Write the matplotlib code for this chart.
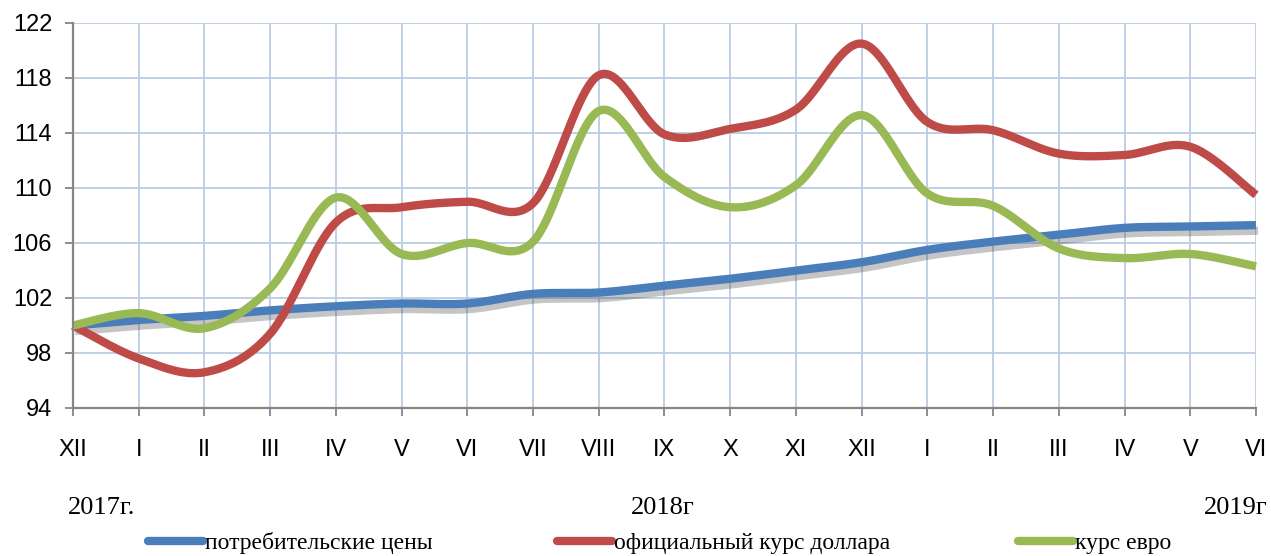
import numpy as np
import matplotlib
matplotlib.use("Agg")
import matplotlib.pyplot as plt
from matplotlib import patheffects as pe
from matplotlib.lines import Line2D

months = ["XII", "I", "II", "III", "IV", "V", "VI", "VII", "VIII", "IX", "X", "XI",
          "XII", "I", "II", "III", "IV", "V", "VI"]
cpi = [100.0, 100.4, 100.7, 101.1, 101.4, 101.6, 101.6, 102.3, 102.4, 102.9, 103.4,
       104.0, 104.6, 105.5, 106.1, 106.6, 107.1, 107.2, 107.3]
usd = [100.0, 97.6, 96.6, 99.4, 107.5, 108.6, 109.0, 108.9, 118.2, 113.9, 114.3,
       115.7, 120.5, 114.8, 114.2, 112.5, 112.4, 113.0, 109.5]
eur = [100.0, 100.9, 99.8, 102.7, 109.3, 105.2, 106.0, 106.1, 115.6, 110.8, 108.6,
       110.2, 115.3, 109.6, 108.7, 105.6, 104.9, 105.2, 104.3]
series_names = ["потребительские цены", "официальный курс доллара", "курс евро"]
years = ["2017г.", "2018г", "2019г"]
yticks = [94, 98, 102, 106, 110, 114, 118, 122]

colors = ["#4a7ebb", "#be4b48", "#98b954"]


def smooth(y, n=40):
    """Excel-style smoothed line (Bezier with Catmull-Rom control points)."""
    y = np.asarray(y, float)
    x = np.arange(len(y), dtype=float)
    P = np.column_stack([x, y])
    out = []
    for i in range(len(P) - 1):
        p0 = P[i - 1] if i > 0 else P[i]
        p1 = P[i]
        p2 = P[i + 1]
        p3 = P[i + 2] if i + 2 < len(P) else P[i + 1]
        c1 = p1 + (p2 - p0) / 6.0
        c2 = p2 - (p3 - p1) / 6.0
        t = np.linspace(0, 1, n, endpoint=(i == len(P) - 2))[:, None]
        b = ((1 - t) ** 3) * p1 + 3 * ((1 - t) ** 2) * t * c1 + 3 * (1 - t) * t ** 2 * c2 + t ** 3 * p2
        out.append(b)
    out = np.vstack(out)
    return out[:, 0], out[:, 1]


W, H = 1271, 556
fig = plt.figure(figsize=(W / 100, H / 100), dpi=100)
ax = fig.add_axes([73 / W, 1 - 408 / H, (1256 - 73) / W, 385 / H])

grid_c = "#b9cde5"
ax.set_xlim(0, len(months) - 1)
ax.set_ylim(94, 122)
ax.set_yticks(yticks)
ax.set_xticks(np.arange(len(months)))
ax.set_xticklabels(months)
ax.grid(True, color=grid_c, linewidth=1.3)
ax.set_axisbelow(True)
for s in ["top", "right"]:
    ax.spines[s].set_visible(False)
for s in ["left", "bottom"]:
    ax.spines[s].set_color("#868686")
    ax.spines[s].set_linewidth(1.6)
    ax.spines[s].set_zorder(5)
ax.tick_params(axis="both", direction="out", length=6, width=1.3, color="#868686",
               labelsize=17, labelcolor="black")
ax.tick_params(axis="x", pad=16)
ax.tick_params(axis="y", pad=9)
for lab in ax.get_xticklabels() + ax.get_yticklabels():
    lab.set_fontfamily("Liberation Sans")

lw = 6.0
for i, (vals, name) in enumerate(zip([cpi, usd, eur], series_names)):
    xs, ys = smooth(vals)
    effects = None
    if i == 0:
        effects = [pe.SimpleLineShadow(offset=(1.5, -4), shadow_color="#404040", alpha=0.3),
                   pe.Normal()]
    ax.plot(xs, ys, color=colors[i], linewidth=lw, solid_capstyle="butt",
            solid_joinstyle="round", label=name, path_effects=effects,
            zorder=3 + i, clip_on=False)

# year labels
serif = "Liberation Serif"
fig.text(68 / W, 1 - 514 / H, years[0], ha="left", va="baseline", fontsize=19, family=serif)
fig.text(663 / W, 1 - 514 / H, years[1], ha="center", va="baseline", fontsize=19, family=serif)
fig.text(1268 / W, 1 - 514 / H, years[2], ha="right", va="baseline", fontsize=19, family=serif)

# legend entries
leg_x = [148, 557, 1018]
fs = 17
for i in range(3):
    h = Line2D([0], [0], color=colors[i], linewidth=lw, solid_capstyle="round")
    fig.legend([h], [series_names[i]], loc="center left",
               bbox_to_anchor=(leg_x[i] / W, 1 - 543 / H), frameon=False,
               borderpad=0, borderaxespad=0, handlelength=55 / (fs * 100 / 72),
               handletextpad=0.1, prop={"family": serif, "size": fs})

fig.savefig("out.png", dpi=100)
